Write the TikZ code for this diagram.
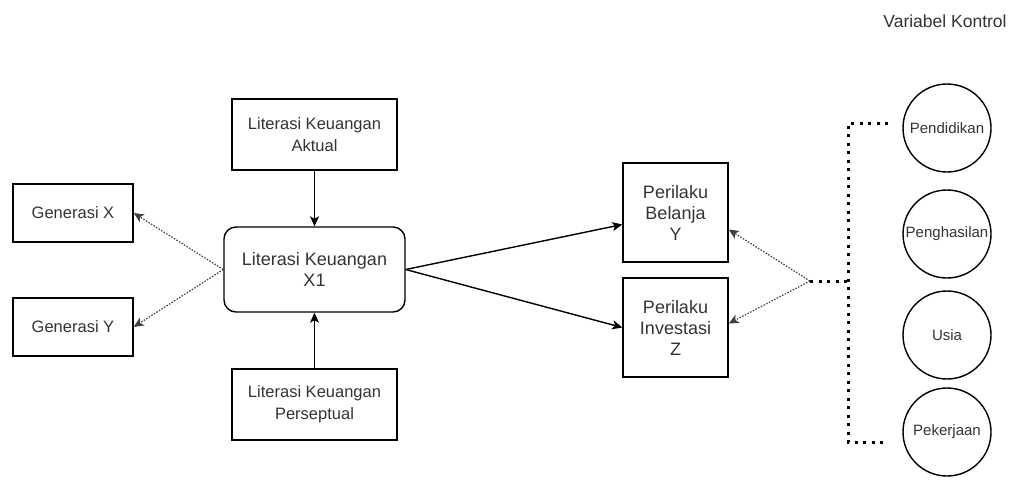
\documentclass[tikz,border=0pt]{standalone}
\usepackage{fontspec}
\setmainfont{Liberation Sans}
\usetikzlibrary{arrows.meta, positioning}

\definecolor{txtgray}{RGB}{51,51,51}
\newcommand{\fsmall}{\fontsize{16.5}{22}\selectfont}
\newcommand{\fbig}{\fontsize{18}{21}\selectfont}
\newcommand{\fcirc}{\fontsize{15}{18}\selectfont}

\tikzset{
  var/.style={draw, line width=1.4pt, inner sep=0pt, align=center, text=txtgray},
  smallvar/.style={var, font=\fsmall, minimum width=165pt, minimum height=71pt},
  mainvar/.style={var, font=\fbig, rounded corners=12pt, minimum width=181pt, minimum height=85pt},
  genvar/.style={var, font=\fsmall, minimum width=120pt, minimum height=58pt},
  depvar/.style={var, font=\fbig, minimum width=105pt, minimum height=99pt},
  kontrol/.style={draw, circle, line width=1.4pt, inner sep=0pt, minimum size=88pt, font=\fcirc, text=txtgray},
  pengaruh/.style={->, line width=1.4pt},
  moderasi/.style={->, line width=1.2pt, black!75, dash pattern=on 1.5pt off 1.5pt},
  kurung/.style={line width=3pt, dash pattern=on 3pt off 5.5pt}
}

\begin{document}
\begin{tikzpicture}[x=1pt, y=-1pt, >={Stealth[length=10pt, width=9pt, inset=2.5pt]}]
\useasboundingbox (0,0) rectangle (1016,480);

\node[smallvar] (aktual) at (314.5,134.5) {Literasi Keuangan\\Aktual};
\node[mainvar] (x1) at (314.5,269.5) {Literasi Keuangan\\X1};
\node[smallvar] (persept) at (314.5,404.5) {Literasi Keuangan\\Perseptual};

\node[genvar] (genx) at (73,213) {Generasi X};
\node[genvar] (geny) at (73,327) {Generasi Y};

\node[depvar] (belanja) at (675.5,212.5) {Perilaku\\Belanja\\Y};
\node[depvar] (invest) at (675.5,327.5) {Perilaku\\Investasi\\Z};

% variabel kontrol
\node[font=\fontsize{17.5}{21}\selectfont, text=txtgray] (judul) at (945,21) {Variabel Kontrol};
\foreach \nama/\teks/\yy in {pend/Pendidikan/128, hasil/Penghasilan/234, usia/Usia/335, kerja/Pekerjaan/432}
  \node[kontrol] (\nama) at (947,\yy) {\teks};

\draw[pengaruh] (aktual) -- (x1);
\draw[pengaruh] (persept) -- (x1);
\draw[pengaruh] (x1.east) -- ([yshift=-12pt]belanja.west);
\draw[pengaruh] (x1.east) -- (invest.west);

\draw[moderasi] (x1.west) -- (genx.east);
\draw[moderasi] (x1.west) -- (geny.east);

\coordinate (simpul) at (810,281);
\coordinate (tengah) at (848,281);
\coordinate (atas) at (848,123);
\coordinate (bawah) at (848,442);

\draw[moderasi] (simpul) -- ([yshift=-17pt]belanja.east);
\draw[moderasi] (simpul) -- ([yshift=4pt]invest.east);
\draw[kurung] (simpul) -- (tengah);
\draw[kurung] ([xshift=40pt]atas) -- (atas) -- (bawah) -- ([xshift=40pt]bawah);
\end{tikzpicture}
\end{document}
